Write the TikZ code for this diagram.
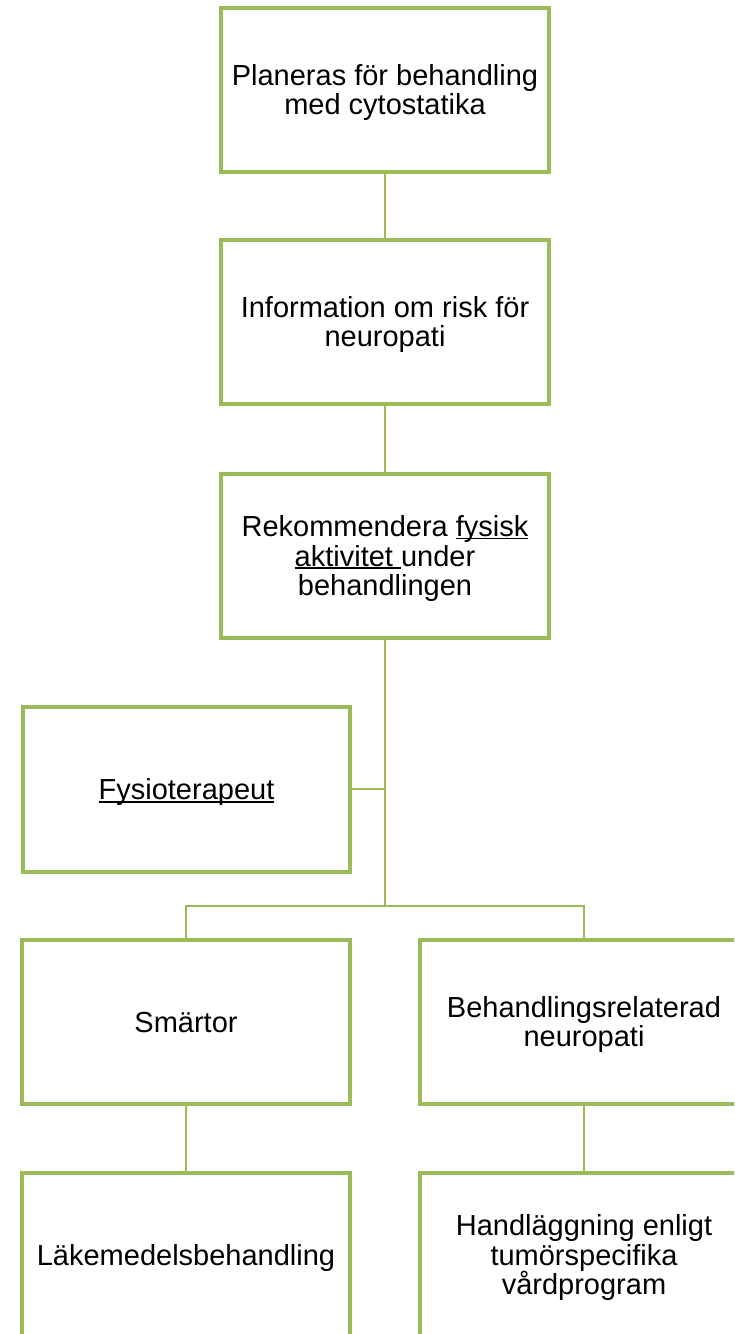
\documentclass[tikz,border=0pt]{standalone}
\usepackage{fontspec}
\setmainfont{Liberation Sans}
\definecolor{boxgreen}{HTML}{9BBB59}
% underline at a fixed depth below the baseline, as in a word processor
\newcommand\ulword[1]{\setbox0\hbox{#1}\rlap{\rule[-3pt]{\wd0}{1.8pt}}\box0}
\begin{document}
\begin{tikzpicture}[x=1pt,y=-1pt,
  card/.style={draw=boxgreen, line width=4pt, fill=white,
    minimum width=328pt, minimum height=164pt, inner sep=0pt,
    align=center, font=\fontsize{29}{29.7}\selectfont,
    text height=26.2pt, text depth=6.1pt},
  twolines/.style={text height=55.9pt},
  threelines/.style={text height=85.6pt},
  link/.style={draw=boxgreen, line width=2pt}]
\useasboundingbox (0,0) rectangle (734,1334);
\clip (0,0) rectangle (734,1334);
\fill[white] (0,0) rectangle (734,1334);

% branching point below the third step
\coordinate (split) at (385,906);

% connectors
\draw[link] (385,90) -- (385,556);
\draw[link] (385,556) -- (split);
\draw[link] (186.5,789) -- (385,789);
\draw[link] (186,1022) |- (split) -| (584,1022);
\draw[link] (186,1022) -- (186,1255);
\draw[link] (584,1022) -- (584,1255);

% boxes
\node[card, twolines] (plan) at (385,90) {Planeras för behandling\\med cytostatika};
\node[card, twolines] (info) at (385,322) {Information om risk för\\neuropati};
\node[card, threelines] (rek) at (385,556) {Rekommendera \ulword{fysisk}\\\ulword{aktivitet\ }under\\behandlingen};
\node[card, minimum width=327pt, minimum height=165pt] (fys) at (186.5,789.5) {\ulword{Fysioterapeut}};
\node[card] (smart) at (186,1022) {Smärtor};
\node[card, twolines] (neuro) at (584,1022) {Behandlingsrelaterad\\neuropati};
\node[card] (lake) at (186,1255) {Läkemedelsbehandling};
\node[card, threelines] (hand) at (584,1255) {Handläggning enligt\\tumörspecifika\\vårdprogram};
\end{tikzpicture}
\end{document}
